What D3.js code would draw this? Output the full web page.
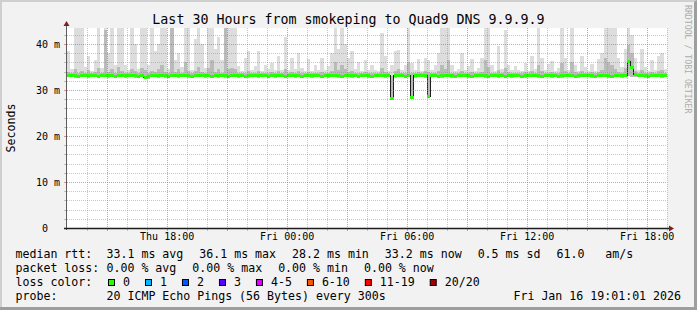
<!DOCTYPE html>
<html>
<head>
<meta charset="utf-8">
<script src="https://d3js.org/d3.v7.min.js"></script>
<style>
  html, body { margin: 0; padding: 0; background: #f2f2f2; }
  svg { display: block; }
  text { font-family: "DejaVu Sans Mono", monospace; fill: #000; }
</style>
</head>
<body>
<svg id="chart"></svg>
<script>
// graph window: last 30 hours, 10 minute bins
var startTime = new Date(2026, 0, 15, 13, 1, 1);
var endTime = new Date(2026, 0, 16, 19, 1, 1);
var stepMinutes = 10;

// median rtt per bin (ms)
var medianRtt = [
  33.2,33.1,33.2,33.0,33.1,33.2,33.1,33.1,33.2,33.0,33.1,33.2,33.1,33.2,33.0,33.1,33.2,33.1,33.1,33.2,
  33.1,33.0,33.1,32.8,32.9,33.2,33.1,33.1,33.2,33.1,33.0,33.1,33.2,33.1,33.1,33.2,33.1,33.0,33.1,33.2,
  33.1,33.1,33.2,33.0,33.1,33.1,33.2,33.1,33.0,33.1,33.2,33.1,33.1,33.0,33.1,33.2,33.1,33.1,33.2,33.1,
  33.0,33.1,33.1,33.2,33.1,33.0,33.1,33.2,33.1,33.1,33.0,33.1,33.2,33.1,33.1,33.2,33.0,33.1,33.1,33.2,
  33.1,33.1,33.0,33.1,33.2,33.1,33.1,33.0,33.1,33.2,33.1,33.0,33.1,33.1,33.2,33.1,33.1,28.2,33.1,33.2,
  33.1,33.0,33.1,28.3,33.1,33.2,33.1,33.1,28.5,33.2,33.1,33.0,33.1,33.2,33.1,33.1,33.0,33.1,33.2,33.1,
  33.1,33.0,33.1,33.2,33.1,33.1,33.0,33.1,33.2,33.1,33.1,33.0,33.1,33.1,33.2,33.1,33.0,33.1,33.1,33.2,
  33.1,33.1,33.0,33.1,33.2,33.1,33.1,33.0,33.1,33.1,33.2,33.1,33.0,33.1,33.1,33.2,33.1,33.1,33.0,33.1,
  33.2,33.1,33.1,33.0,33.1,33.2,33.1,33.2,36.1,34.8,33.3,33.1,33.2,33.1,33.0,33.1,33.2,33.1,33.1,33.2
];

// fastest ping per bin (ms)
var pingLow = [
  32.8,32.8,32.7,32.6,32.8,32.9,32.7,32.8,32.8,32.6,32.8,32.8,32.7,32.9,32.6,32.8,32.8,32.7,32.8,32.9,
  32.7,32.7,32.8,32.4,32.5,32.8,32.8,32.7,32.8,32.7,32.6,32.8,32.8,32.7,32.8,32.9,32.7,32.6,32.8,32.8,
  32.8,32.7,32.8,32.6,32.8,32.7,32.9,32.7,32.6,32.8,32.8,32.7,32.8,32.6,32.7,32.9,32.8,32.7,32.8,32.8,
  32.6,32.8,32.7,32.9,32.8,32.6,32.8,32.8,32.7,32.8,32.6,32.8,32.9,32.7,32.8,32.8,32.6,32.8,32.7,32.9,
  32.8,32.7,32.6,32.8,32.9,32.7,32.8,32.6,32.8,32.9,32.7,32.6,32.8,32.8,32.8,32.7,32.8,28.0,32.7,32.9,
  32.8,32.6,32.8,28.1,32.7,32.9,32.8,32.7,28.3,32.8,32.8,32.6,32.7,32.9,32.8,32.7,32.6,32.8,32.9,32.8,
  32.7,32.6,32.8,32.9,32.8,32.7,32.6,32.8,32.8,32.7,32.8,32.6,32.8,32.7,32.9,32.8,32.6,32.7,32.8,32.9,
  32.8,32.7,32.6,32.8,32.9,32.7,32.8,32.6,32.7,32.8,32.9,32.8,32.6,32.7,32.8,32.9,32.8,32.7,32.6,32.8,
  32.9,32.8,32.7,32.6,32.8,32.9,32.7,32.8,33.0,32.9,32.9,32.8,32.8,32.7,32.6,32.8,32.9,32.8,32.7,32.9
];

// upper edge of the dense part of the smoke (ms)
var pingMid = [
  33.9,33.6,34.5,33.8,34.2,33.6,34.3,33.6,33.9,34.8,33.6,43.0,33.9,34.6,33.7,35.0,34.2,33.7,33.6,34.5,
  34.2,33.6,34.8,34.3,33.7,34.2,33.9,34.5,35.5,33.9,33.6,44.0,33.9,34.5,33.7,36.0,34.2,33.6,34.2,35.0,
  33.9,33.6,34.8,36.5,33.9,34.5,33.8,44.0,34.5,34.8,34.6,33.7,33.6,33.8,34.2,33.6,33.8,34.1,33.6,33.8,
  33.7,33.9,33.6,34.1,33.7,34.5,33.6,33.9,33.6,34.2,33.8,33.6,33.9,33.6,33.8,33.6,34.0,33.6,33.8,34.2,
  36.0,34.3,35.5,34.5,33.9,34.2,33.6,33.8,33.6,33.9,33.6,33.7,33.8,33.6,34.8,34.0,33.6,33.0,34.1,34.6,
  33.6,33.8,36.0,33.6,33.6,33.9,33.6,34.2,34.0,33.6,33.8,34.2,35.5,34.6,36.5,33.8,33.6,33.7,34.2,33.6,
  33.8,34.0,33.6,33.7,34.0,36.5,35.0,33.8,33.6,34.4,33.7,34.8,33.9,33.6,33.8,33.7,33.6,33.9,33.6,34.2,
  33.7,35.5,34.1,33.6,33.8,33.9,33.6,33.8,35.8,34.1,33.7,36.0,33.9,33.6,34.2,33.7,33.6,33.9,33.6,34.0,
  34.4,37.0,36.0,35.5,34.5,34.0,33.7,34.8,39.8,38.0,34.2,33.6,34.4,33.7,33.6,33.9,33.6,34.2,34.4,33.6
];

// slowest ping per bin (ms)
var pingHigh = [
  38.5,34.5,46.0,47.0,45.0,35.0,37.5,34.2,36.5,44.0,34.8,45.0,38.0,46.0,35.5,45.0,44.0,35.5,34.4,46.0,
  40.0,34.6,45.0,44.0,35.5,47.0,38.5,40.0,45.0,44.0,34.5,46.0,36.5,38.0,35.0,45.0,44.0,34.3,41.0,45.0,
  40.0,34.8,46.0,45.0,39.0,41.5,36.5,45.0,44.0,46.0,44.0,35.2,34.2,37.0,38.5,34.4,35.2,38.5,34.2,35.5,
  34.6,35.8,34.3,37.5,34.4,41.5,34.3,37.0,34.5,38.0,34.8,34.2,36.8,34.1,35.5,34.3,37.0,34.4,35.2,38.0,
  45.0,39.0,44.0,40.0,37.0,38.5,34.5,36.0,34.2,36.5,34.3,35.5,34.4,34.1,42.3,37.5,34.2,35.5,38.5,38.7,
  34.4,35.5,45.0,35.8,34.3,36.8,34.2,37.0,36.5,34.3,35.4,38.0,45.0,44.0,46.0,35.5,34.1,34.6,38.0,34.3,
  35.2,36.8,34.1,34.8,37.0,45.0,44.0,35.5,34.2,39.5,34.6,43.0,35.5,34.3,35.2,34.4,34.1,35.8,34.2,37.5,
  34.5,45.0,37.0,34.3,35.6,36.3,34.2,34.8,45.0,37.0,34.4,45.0,35.5,34.2,37.5,35.0,34.2,35.6,34.1,36.8,
  38.0,45.0,46.0,45.0,44.0,37.0,35.0,39.0,45.0,42.0,37.0,34.3,39.0,35.0,34.2,36.5,34.4,37.5,38.0,34.5
];

var yMax = 43.48;
var yTicks = [0, 10, 20, 30, 40];
var yTickLabels = ["0  ", "10 m", "20 m", "30 m", "40 m"];

var rttStats = ["33.1 ms avg", "36.1 ms max", "28.2 ms min", "33.2 ms now", "0.5 ms sd", "61.0   am/s"];
var lossStats = ["0.00 % avg", "0.00 % max", "0.00 % min", "0.00 % now"];
var lossLabels = ["0", "1", "2", "3", "4-5", "6-10", "11-19", "20/20"];
var lossColors = ["#26ff00", "#00b8ff", "#0059ff", "#5e00ff", "#dd00ff", "#ff5500", "#ff0000", "#a10000"];
var probeText = "20 ICMP Echo Pings (56 Bytes) every 300s";
var stampText = "Fri Jan 16 19:01:01 2026";
var titleText = "Last 30 Hours from smokeping to Quad9 DNS 9.9.9.9";

var width = 697, height = 310;
var plot = { left: 67, right: 667, top: 28, bottom: 228 };

var svg = d3.select("#chart")
    .attr("width", width)
    .attr("height", height);

// background + 3d border
svg.append("rect")
    .attr("width", width)
    .attr("height", height)
    .attr("fill", "#f2f2f2");
svg.append("path")
    .attr("d", "M0,0H" + width + "V2H2V" + height + "H0Z")
    .attr("fill", "#cfcfcf");
svg.append("path")
    .attr("d", "M" + width + ",0V" + height + "H0V" + (height - 3) + "H" + (width - 3) + "V2Z")
    .attr("fill", "#9e9e9e");

svg.append("rect")
    .attr("x", plot.left)
    .attr("y", plot.top)
    .attr("width", plot.right - plot.left)
    .attr("height", plot.bottom - plot.top)
    .attr("fill", "#fff");

var x = d3.scaleTime()
    .domain([startTime, endTime])
    .range([plot.left, plot.right]);

var y = d3.scaleLinear()
    .domain([0, yMax])
    .range([plot.bottom, plot.top]);

var bins = medianRtt.map(function(m, i) {
  return {
    t0: d3.timeMinute.offset(startTime, i * stepMinutes),
    t1: d3.timeMinute.offset(startTime, (i + 1) * stepMinutes),
    median: m,
    lo: pingLow[i],
    mid: pingMid[i],
    hi: pingHigh[i]
  };
});

svg.append("clipPath")
    .attr("id", "plot-clip")
  .append("rect")
    .attr("x", plot.left)
    .attr("y", plot.top)
    .attr("width", plot.right - plot.left)
    .attr("height", plot.bottom - plot.top);

var data = svg.append("g")
    .attr("clip-path", "url(#plot-clip)");

// smoke
data.selectAll(".smoke-hi")
    .data(bins)
  .enter().append("rect")
    .classed("smoke-hi", true)
    .attr("x", d => x(d.t0))
    .attr("width", d => x(d.t1) - x(d.t0))
    .attr("y", d => y(d.hi))
    .attr("height", d => y(d.lo) - y(d.hi))
    .attr("fill", "#dddddd")
    .attr("shape-rendering", "crispEdges");

data.selectAll(".smoke-mid")
    .data(bins)
  .enter().append("rect")
    .classed("smoke-mid", true)
    .attr("x", d => x(d.t0))
    .attr("width", d => x(d.t1) - x(d.t0))
    .attr("y", d => y(d.mid))
    .attr("height", d => y(d.lo) - y(d.mid))
    .attr("fill", "#bababa")
    .attr("shape-rendering", "crispEdges");

// median: black step line + loss coloured band
var medianPoints = bins.map(d => ({ t: d.t0, v: d.median }));
medianPoints.push({ t: bins[bins.length - 1].t1, v: bins[bins.length - 1].median });

data.append("path")
    .datum(medianPoints)
    .attr("d", d3.line()
        .x(d => x(d.t))
        .y(d => y(d.v))
        .curve(d3.curveStepAfter))
    .attr("fill", "none")
    .attr("stroke", "#202020")
    .attr("stroke-width", 1)
    .attr("shape-rendering", "crispEdges");

data.selectAll(".median")
    .data(bins)
  .enter().append("rect")
    .classed("median", true)
    .attr("x", d => x(d.t0))
    .attr("width", d => x(d.t1) - x(d.t0))
    .attr("y", d => y(d.median) - 1.5)
    .attr("height", 3)
    .attr("fill", lossColors[0])
    .attr("shape-rendering", "crispEdges");

// grid, drawn over the data like rrdtool does
var minorColor = "rgba(143,143,143,0.5)";
var majorColor = "rgba(222,80,80,0.6)";

var hours = d3.timeHour.range(d3.timeHour.ceil(startTime), endTime);
var yMinor = d3.range(2, yMax, 2).filter(v => v % 10 !== 0);
var yMajor = yTicks.filter(v => v > 0);

var grid = svg.append("g")
    .attr("shape-rendering", "crispEdges");

grid.selectAll(".vgrid")
    .data(hours)
  .enter().append("line")
    .attr("x1", d => Math.round(x(d)) + 0.5)
    .attr("x2", d => Math.round(x(d)) + 0.5)
    .attr("y1", plot.top)
    .attr("y2", plot.bottom)
    .attr("stroke", d => d.getHours() % 3 === 0 ? majorColor : minorColor)
    .attr("stroke-dasharray", "1,1");

grid.selectAll(".vtick")
    .data(hours)
  .enter().append("line")
    .attr("x1", d => Math.round(x(d)) + 0.5)
    .attr("x2", d => Math.round(x(d)) + 0.5)
    .attr("y1", plot.bottom)
    .attr("y2", plot.bottom + 3)
    .attr("stroke", d => d.getHours() % 3 === 0 ? majorColor : minorColor);

grid.selectAll(".hgrid")
    .data(yMinor.concat(yMajor))
  .enter().append("line")
    .attr("x1", plot.left)
    .attr("x2", plot.right)
    .attr("y1", d => Math.round(y(d)) + 0.5)
    .attr("y2", d => Math.round(y(d)) + 0.5)
    .attr("stroke", d => d % 10 === 0 ? majorColor : minorColor)
    .attr("stroke-dasharray", "1,1");

grid.selectAll(".htick")
    .data(yMinor.concat(yTicks))
  .enter().append("line")
    .attr("x1", plot.left - 3)
    .attr("x2", plot.left)
    .attr("y1", d => Math.round(y(d)) + 0.5)
    .attr("y2", d => Math.round(y(d)) + 0.5)
    .attr("stroke", d => d % 10 === 0 ? majorColor : minorColor);

// axes with arrows
svg.append("line")
    .attr("x1", plot.left - 0.5)
    .attr("x2", plot.left - 0.5)
    .attr("y1", plot.bottom + 2)
    .attr("y2", plot.top - 4)
    .attr("stroke", "#1f1f1f")
    .attr("stroke-opacity", 0.7);

svg.append("line")
    .attr("x1", plot.left - 3)
    .attr("x2", plot.right + 4)
    .attr("y1", plot.bottom + 0.5)
    .attr("y2", plot.bottom + 0.5)
    .attr("stroke", "#1f1f1f")
    .attr("stroke-width", 1.5);

svg.append("path")
    .attr("d", "M" + (plot.left - 3.5) + "," + (plot.top - 2) + "L" + (plot.left - 0.5) + "," + (plot.top - 7) +
               "L" + (plot.left + 2.5) + "," + (plot.top - 2) + "Z")
    .attr("fill", "#801f1f");

svg.append("path")
    .attr("d", "M" + (plot.right + 2) + "," + (plot.bottom - 2.5) + "L" + (plot.right + 7) + "," + (plot.bottom + 0.5) +
               "L" + (plot.right + 2) + "," + (plot.bottom + 3.5) + "Z")
    .attr("fill", "#801f1f");

// axis labels
var xAxis = svg.append("g")
    .attr("transform", "translate(0," + plot.bottom + ")")
    .call(d3.axisBottom(x)
        .ticks(d3.timeHour.every(6))
        .tickFormat(d3.timeFormat("%a %H:%M"))
        .tickSize(0)
        .tickPadding(5));
xAxis.select(".domain").remove();
xAxis.selectAll("text")
    .attr("font-family", "DejaVu Sans Mono")
    .attr("font-size", "10px")
    .attr("fill", "#000")
    .attr("dy", "0.71em");

var yAxis = svg.append("g")
    .attr("transform", "translate(" + (plot.left - 7) + ",0)")
    .call(d3.axisLeft(y)
        .tickValues(yTicks)
        .tickFormat((d, i) => yTickLabels[i])
        .tickSize(0)
        .tickPadding(0));
yAxis.select(".domain").remove();
yAxis.selectAll("text")
    .attr("font-family", "DejaVu Sans Mono")
    .attr("font-size", "10px")
    .attr("fill", "#000")
    .style("white-space", "pre");

svg.append("text")
    .attr("x", width / 2)
    .attr("y", 23.5)
    .attr("font-size", "13.3px")
    .style("text-anchor", "middle")
    .text(titleText);

svg.append("text")
    .attr("transform", "translate(14.5," + (plot.top + plot.bottom) / 2 + ") rotate(-90)")
    .attr("font-size", "11.6px")
    .style("text-anchor", "middle")
    .text("Seconds");

svg.append("text")
    .attr("transform", "translate(685,5) rotate(90)")
    .attr("font-size", "8.2px")
    .style("fill", "#acacac")
    .text("RRDTOOL / TOBI OETIKER");

// legend
var legendFont = "11.6px";
var col1 = 15.5, col2 = 106.5, gap = 16;
var rowY = [258.3, 272.2, 286.1, 300];

function legendRow(label, items, baseline) {
  svg.append("text")
      .attr("x", col1)
      .attr("y", baseline)
      .attr("font-size", legendFont)
      .text(label);
  var cursor = col2;
  items.forEach(function(item) {
    var t = svg.append("text")
        .attr("x", cursor)
        .attr("y", baseline)
        .attr("font-size", legendFont)
        .style("white-space", "pre")
        .text(item);
    cursor += t.node().getComputedTextLength() + gap;
  });
}

legendRow("median rtt:", rttStats, rowY[0]);
legendRow("packet loss:", lossStats, rowY[1]);
legendRow("loss color:", [], rowY[2]);
legendRow("probe:", [probeText], rowY[3]);

var cursor = col2 + 1.5;
lossLabels.forEach(function(label, i) {
  svg.append("rect")
      .attr("x", cursor + 0.5)
      .attr("y", rowY[2] - 6.6)
      .attr("width", 6)
      .attr("height", 6)
      .attr("fill", lossColors[i])
      .attr("stroke", "#000")
      .attr("stroke-width", 1);
  var t = svg.append("text")
      .attr("x", cursor + 15)
      .attr("y", rowY[2])
      .attr("font-size", legendFont)
      .text(label);
  cursor += 15 + t.node().getComputedTextLength() + 15;
});

svg.append("text")
    .attr("x", 681)
    .attr("y", rowY[3])
    .attr("font-size", legendFont)
    .style("text-anchor", "end")
    .text(stampText);
</script>
</body>
</html>
